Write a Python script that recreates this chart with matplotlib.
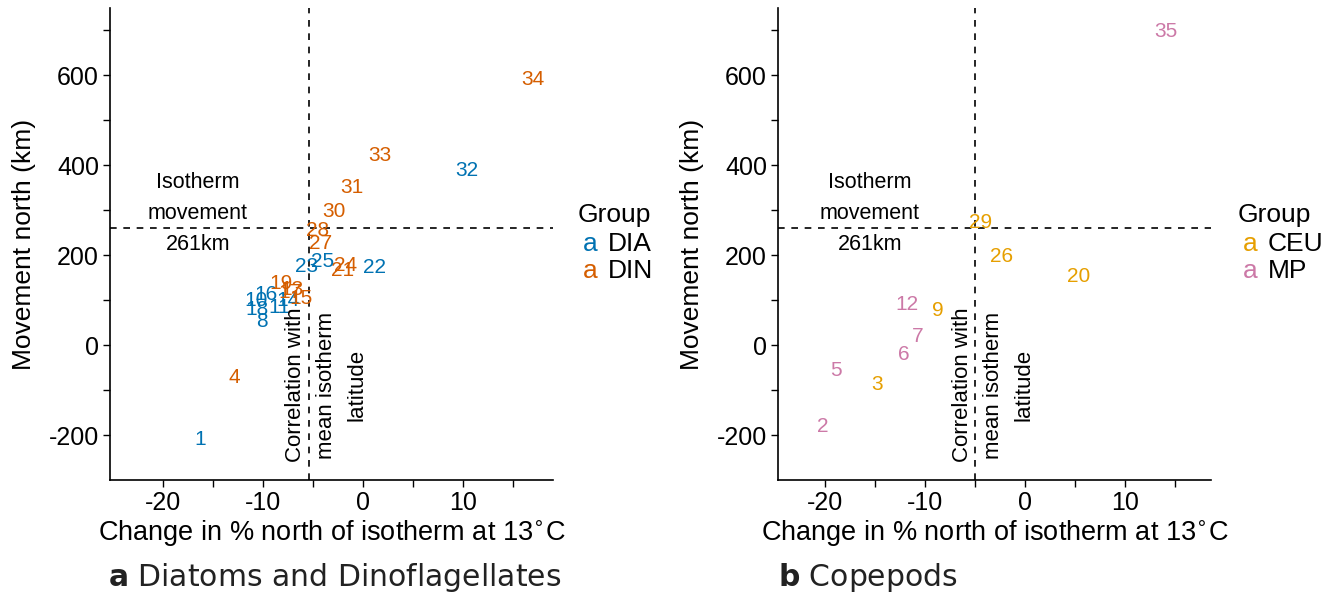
import matplotlib
matplotlib.use("Agg")
import matplotlib.pyplot as plt

# panel a: diatoms (DIA) and dinoflagellates (DIN)
a_ids = [1, 4, 8, 10, 11, 13, 14, 15, 16, 17, 18, 19,
         21, 22, 23, 24, 25, 27, 28, 30, 31, 32, 33, 34]
a_x = [-16.3, -12.9, -10.1, -10.7, -8.4, -7.1, -7.5, -6.2, -9.7, -7.3, -10.6, -8.2,
       -2.0, 1.1, -5.6, -1.7, -4.0, -4.2, -4.5, -2.9, -1.1, 10.4, 1.7, 17.0]
a_y = [-209, -73, 53, 100, 84, 124, 100, 104, 113, 116, 80, 138,
       167, 173, 176, 178, 187, 227, 256, 298, 351, 389, 422, 591]
a_grp = ["DIA", "DIN", "DIA", "DIA", "DIA", "DIN", "DIA", "DIN", "DIA", "DIN", "DIA", "DIN",
         "DIN", "DIA", "DIA", "DIN", "DIA", "DIN", "DIN", "DIN", "DIN", "DIA", "DIN", "DIN"]

# panel b: copepods
b_ids = [2, 3, 5, 6, 7, 9, 12, 20, 26, 29, 35]
b_x = [-20.2, -14.8, -18.9, -12.1, -10.7, -8.7, -11.8, 5.4, -2.3, -4.4, 14.1]
b_y = [-180, -87, -56, -20, 20, 76, 91, 153, 198, 273, 698]
b_grp = ["MP", "CEU", "MP", "MP", "MP", "CEU", "MP", "CEU", "CEU", "CEU", "MP"]

colours = {"DIA": "#0072B2", "DIN": "#D55E00", "CEU": "#E69F00", "MP": "#CC79A7"}

iso_move = 261
plt.rcParams['font.family'] = ['Liberation Sans', 'DejaVu Sans']

W, H = 1338, 596
fig = plt.figure(figsize=(W / 100, H / 100), dpi=100)
ax_a = fig.add_axes([110 / W, 1 - 480 / H, 443 / W, 472 / H])
ax_b = fig.add_axes([778 / W, 1 - 480 / H, 433 / W, 472 / H])


def panel(ax, ids, xs, ys, grp, xlim, vline, iso_x, corr_x):
    for i, x, y, g in zip(ids, xs, ys, grp):
        ax.text(x, y, str(i), color=colours[g], fontsize=15, ha="center", va="center")
    ax.axhline(iso_move, color="black", ls=(0, (4, 4)), lw=1.2)
    ax.axvline(vline, color="black", ls=(0, (4, 4)), lw=1.2)
    ax.text(iso_x, 293, "Isotherm\nmovement\n261km", fontsize=15.5, ha="center",
            va="center", linespacing=1.65)
    ax.text(corr_x, -89, "Correlation with\nmean isotherm\nlatitude", fontsize=16,
            ha="center", va="center", rotation=90, linespacing=1.6)
    ax.set_xlim(*xlim)
    ax.set_ylim(-300, 750)
    ax.set_xticks([-20, -10, 0, 10])
    ax.set_xticks([-15, -5, 5, 15], minor=True)
    ax.set_yticks([-200, 0, 200, 400, 600])
    ax.set_yticks([-100, 100, 300, 500, 700], minor=True)
    ax.set_xticklabels(["-20", "-10", "0", "10"])
    ax.set_yticklabels(["-200", "0", "200", "400", "600"])
    ax.tick_params(which="both", length=5, width=1, labelsize=18, color="black", pad=3)
    for s in ["top", "right"]:
        ax.spines[s].set_visible(False)
    for s in ["left", "bottom"]:
        ax.spines[s].set_linewidth(1.2)
    ax.set_xlabel("Change in % north of isotherm at 13$^{\\circ}$C", fontsize=19.5, labelpad=2)
    ax.set_ylabel("Movement north (km)", fontsize=19, labelpad=9)


panel(ax_a, a_ids, a_x, a_y, a_grp, (-25.3, 19.0), -5.4, -16.5, -3.7)
panel(ax_b, b_ids, b_x, b_y, b_grp, (-24.7, 18.6), -5.0, -15.5, -3.2)


def legend(x0, keys):
    fig.text(x0 / W, 1 - 215 / H, "Group", fontsize=19, va="center", ha="left")
    for name, yy in zip(keys, [244, 271]):
        fig.text((x0 + 12) / W, 1 - yy / H, "a", color=colours[name], fontsize=19,
                 va="center", ha="center")
        fig.text((x0 + 30) / W, 1 - yy / H, name, fontsize=19, va="center", ha="left")


legend(578, ["DIA", "DIN"])
legend(1238, ["CEU", "MP"])

fig.text(108 / W, 1 - 577 / H, r"$\bf{a}$ Diatoms and Dinoflagellates", fontsize=21.5,
         family="DejaVu Sans", va="center", ha="left", color="#222222")
fig.text(778 / W, 1 - 577 / H, r"$\bf{b}$ Copepods", fontsize=21.5,
         family="DejaVu Sans", va="center", ha="left", color="#222222")

fig.savefig("out.png", dpi=100)
